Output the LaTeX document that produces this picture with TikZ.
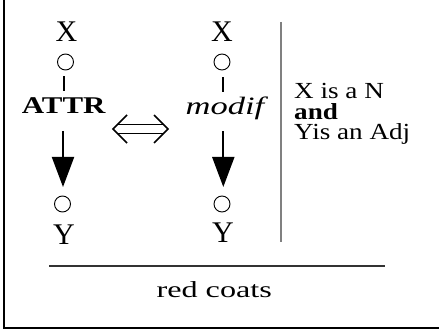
\documentclass[tikz,border=0pt]{standalone}
\usepackage{fontspec}
\usepackage{graphicx}
\setmainfont{Liberation Serif}
\newcommand\hstr[2]{\scalebox{#1}[1]{#2}}
\usetikzlibrary{arrows.meta}
\begin{document}
\begin{tikzpicture}[x=1pt,y=-1pt,
  lbl/.style={inner sep=0pt, anchor=base},
  var/.style={lbl, font=\fontsize{30}{30}\selectfont},
  rel/.style={lbl, font=\fontsize{24}{24}\selectfont\bfseries},
  rels/.style={lbl, font=\fontsize{25}{25}\selectfont\itshape},
  txt/.style={lbl, anchor=base west, font=\fontsize{23}{23}\selectfont},
  exlabel/.style={lbl, font=\fontsize{23}{23}\selectfont},
  dot/.style={circle, draw, line width=0.9pt, minimum size=16pt, inner sep=0pt},
  seg/.style={line width=2pt},
  dep/.style={line width=2pt, -{Triangle[width=22pt,length=30pt]}},
  rule/.style={line width=1.3pt}
]
\useasboundingbox (0,0) rectangle (439,331);
% frame
\draw[line width=2.3pt] (4.2,0) -- (4.2,328.3) -- (439,328.3);
% left structure
\node[var] (x1) at (66.5,42) {X};
\node[dot] (c1) at (65.5,62) {};
\node[rel] (attr) at (63.7,114) {\hstr{1.29}{ATTR}};
\node[dot] (c2) at (62.5,204) {};
\node[var] (y1) at (64,244) {Y};
\draw[seg] ([xshift=-2pt]c1.south) ++(0,6) -- ++(0,15);
\draw[dep] (attr.base -| c2) ++(0.5,17) -- ++(0,56);
% right structure
\node[var] (x2) at (222,42) {X};
\node[dot] (c3) at (222,62) {};
\node[rels] (modif) at (225,114.5) {\hstr{1.38}{modif}};
\node[dot] (c4) at (222,204) {};
\node[var] (y2) at (223,243) {Y};
\draw[seg] ([xshift=1.3pt]c3.south) ++(0,7) -- ++(0,15);
\draw[dep] (modif.base -| c4) ++(1.3,17) -- ++(0,55.5);
% equivalence arrow
\coordinate (eqL) at (113,129);
\coordinate (eqR) at (168,129);
\draw[line width=1.6pt, line join=miter] ([xshift=14pt,yshift=-14pt]eqL) -- (eqL) -- ([xshift=14pt,yshift=14pt]eqL);
\draw[line width=1.6pt, line join=miter] ([xshift=-14pt,yshift=-14pt]eqR) -- (eqR) -- ([xshift=-14pt,yshift=14pt]eqR);
\draw[line width=1.6pt] ([xshift=5pt,yshift=-4.6pt]eqL) -- ([xshift=-5pt,yshift=-4.6pt]eqR);
\draw[line width=1.6pt] ([xshift=5pt,yshift=4.6pt]eqL) -- ([xshift=-5pt,yshift=4.6pt]eqR);
% separator
\draw[rule, gray] (281,22) -- (281,242);
\node[txt] (cond1) at (294,99) {\hstr{1.18}{X is a N}};
\node[txt] (cond2) at (294,119.5) {\hstr{1.18}{\bfseries and}};
\node[txt] (cond3) at (294,140) {\hstr{1.18}{Yis an Adj}};
% bottom
\draw[rule, black!80] (49,266) -- (385,266);
\node[exlabel] (ex) at (214.2,297) {\hstr{1.4}{red coats}};
\end{tikzpicture}
\end{document}
